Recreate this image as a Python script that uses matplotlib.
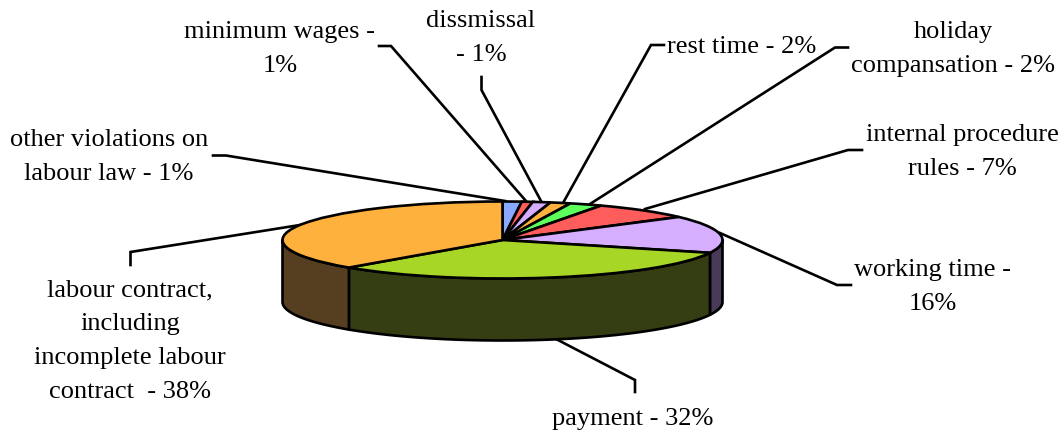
import numpy as np
import matplotlib
matplotlib.use("Agg")
import matplotlib.pyplot as plt

labels = ["other violations on\nlabour law - 1%",
          "minimum wages -\n1%",
          "dissmissal\n- 1%",
          "rest time - 2%",
          "holiday\ncompansation - 2%",
          "internal procedure\nrules - 7%",
          "working time -\n16%",
          "payment - 32%",
          "labour contract,\nincluding\nincomplete labour\ncontract  - 38%"]
values = [1.4, 0.8, 1.3, 1.5, 2.4, 7.4, 15.6, 31.9, 37.7]
colors = ["#8AA8FF", "#FF5C5C", "#D5AEFF", "#FFB13D", "#5CFF5C",
          "#FF5C5C", "#D5AEFF", "#A8D626", "#FFB13D"]
side_colors = ["#2E3855", "#551F1F", "#483A58", "#553F20", "#1F551F",
               "#551F1F", "#483A58", "#353D12", "#553F20"]

W, H = 1064, 432
cx, cy = 502.5, 240    # pie centre in pixels
rx, ry = 220, 38.5
depth = 62 / ry

plt.rcParams["font.family"] = "Liberation Serif"

fig = plt.figure(figsize=(W / 100, H / 100), dpi=100, facecolor="white")

# pixel axes for labels and leader lines
ax = fig.add_axes([0, 0, 1, 1])
ax.set_xlim(0, W)
ax.set_ylim(H, 0)
ax.axis("off")

leaders = [[(213, 155.5), (226, 155.5), (505, 201)],
           [(379, 46), (391, 46), (526, 201)],
           [(481.5, 77), (481.5, 90), (541, 201)],
           [(664, 45), (651, 45), (563, 203)],
           [(848, 47.5), (835, 47.5), (590, 204)],
           [(862, 150), (848, 150), (645, 209)],
           [(851, 285), (837, 285), (720, 233)],
           [(635, 392), (635, 380), (556, 339)],
           [(130.5, 265), (130.5, 252), (300, 225)]]
for pts in leaders:
    xs, ys = zip(*pts)
    ax.plot(xs, ys, color="black", lw=1.9, solid_joinstyle="miter")

label_pos = [(109, 157, "center"), (280, 49, "center"), (481, 38, "center"),
             (667, 47, "left"), (953, 49, "center"), (962, 152, "center"),
             (933, 287, "center"), (633, 419, "center"), (130, 341, "center")]
for text, (x, y, ha) in zip(labels, label_pos):
    ax.text(x, y, text, fontsize=19, ha=ha, va="center", ma="center",
            linespacing=1.7, color="black")

# second axes where the pie is a unit circle, squashed to an ellipse
pie_ax = fig.add_axes([0, 0, 1, 1])
pie_ax.patch.set_alpha(0)

edges = np.cumsum([0] + values) / sum(values) * 2 * np.pi
for i in range(len(values)):
    # side wall, only the part on the front half of the pie
    a0 = max(edges[i], np.pi / 2)
    a1 = min(edges[i + 1], 3 * np.pi / 2)
    if a1 <= a0:
        continue
    t = np.linspace(a0, a1, 100)
    xs = np.r_[np.sin(t), np.sin(t[::-1])]
    ys = np.r_[np.cos(t), np.cos(t[::-1]) - depth]
    pie_ax.fill(xs, ys, facecolor=side_colors[i], edgecolor="black", lw=1.9,
                joinstyle="round")

pie_ax.pie(values, colors=colors, startangle=90, counterclock=False, radius=1,
           wedgeprops={"edgecolor": "black", "linewidth": 1.9})
pie_ax.set_aspect("auto")
pie_ax.set_xlim(-cx / rx, (W - cx) / rx)
pie_ax.set_ylim((cy - H) / ry, cy / ry)
pie_ax.axis("off")

fig.savefig("out.png", dpi=100)
